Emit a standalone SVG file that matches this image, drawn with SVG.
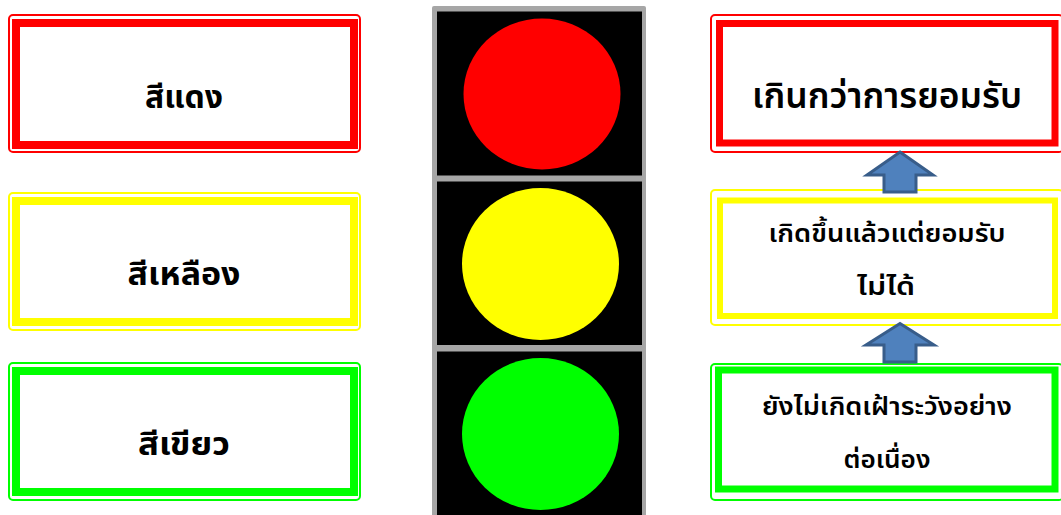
<svg xmlns="http://www.w3.org/2000/svg" width="1061" height="515" viewBox="0 0 1061 515">
<defs>
<style>
.outer{fill:none;stroke-width:2}
.band{fill:#fff}
.red{stroke:#ff0000}
.yel{stroke:#ffff00}
.grn{stroke:#00ff00}
.lbl{font-family:"Noto Sans Thai","Noto Sans","DejaVu Sans",sans-serif;fill:#000;text-anchor:middle}
.big{font-size:32px;font-weight:bold}
.rtop{font-size:35px;font-weight:600}
.rsm{font-size:25px;font-weight:600}
.arrow{fill:#4f81bd;stroke:#385d8a;stroke-width:3;stroke-linejoin:miter}
</style>
</defs>
<rect width="1061" height="515" fill="#fff"/>

<g id="label-red">
<rect class="outer red" x="9" y="15" width="351" height="137" rx="4"/>
<rect class="band red" x="16" y="23" width="338" height="122" stroke-width="8"/>
<text class="lbl big" x="184" y="108" textLength="78" lengthAdjust="spacingAndGlyphs">สีแดง</text>
</g>
<g id="label-yellow">
<rect class="outer yel" x="9" y="193" width="351" height="137" rx="4"/>
<rect class="band yel" x="16" y="201" width="338" height="121" stroke-width="8"/>
<text class="lbl big" x="184" y="285" textLength="113" lengthAdjust="spacingAndGlyphs">สีเหลือง</text>
</g>
<g id="label-green">
<rect class="outer grn" x="9" y="363" width="351" height="137" rx="4"/>
<rect class="band grn" x="16" y="371" width="338" height="121" stroke-width="8"/>
<text class="lbl big" x="184" y="455" textLength="92" lengthAdjust="spacingAndGlyphs">สีเขียว</text>
</g>

<g id="traffic-light">
<rect x="432" y="6" width="214" height="515" rx="2" fill="#a6a6a6"/>
<rect x="437" y="11.5" width="205" height="164" fill="#000"/>
<rect x="437" y="181.5" width="205" height="163.5" fill="#000"/>
<rect x="437" y="351.5" width="205" height="170" fill="#000"/>
<ellipse cx="542" cy="94" rx="78.5" ry="75.5" fill="#ff0000"/>
<ellipse cx="540.5" cy="264" rx="78.5" ry="76" fill="#ffff00"/>
<ellipse cx="540.5" cy="434" rx="78.5" ry="76" fill="#00ff00"/>
</g>

<g id="level-high">
<rect class="outer red" x="711" y="15" width="352" height="137" rx="4"/>
<rect class="band red" x="719.5" y="23.5" width="335.5" height="119.5" stroke-width="7"/>
<text class="lbl rtop" x="887" y="108" textLength="270" lengthAdjust="spacingAndGlyphs">เกินกว่าการยอมรับ</text>
</g>
<g id="level-mid">
<rect class="outer yel" x="711" y="190" width="352" height="135" rx="4"/>
<rect class="band yel" x="720" y="200.5" width="335" height="115.5" stroke-width="6"/>
<text class="lbl rsm" x="887" y="242" textLength="237" lengthAdjust="spacingAndGlyphs">เกิดขึ้นแล้วแต่ยอมรับ</text>
<text class="lbl rsm" x="886" y="295" textLength="58" lengthAdjust="spacingAndGlyphs">ไม่ได้</text>
</g>
<g id="level-low">
<rect class="outer grn" x="711" y="364" width="352" height="136" rx="4"/>
<rect class="band grn" x="718.5" y="370" width="336.5" height="119" stroke-width="7"/>
<text class="lbl rsm" x="887" y="415" textLength="250" lengthAdjust="spacingAndGlyphs">ยังไม่เกิดเฝ้าระวังอย่าง</text>
<text class="lbl rsm" x="887" y="468" textLength="87" lengthAdjust="spacingAndGlyphs">ต่อเนื่อง</text>
</g>

<g id="connectors">
<polygon class="arrow" points="900,152 933,175 916,175 916,192 884,192 884,175 867,175"/>
<polygon class="arrow" points="900,323.5 934,345 916,345 916,362 884,362 884,345 866,345"/>
</g>
</svg>
